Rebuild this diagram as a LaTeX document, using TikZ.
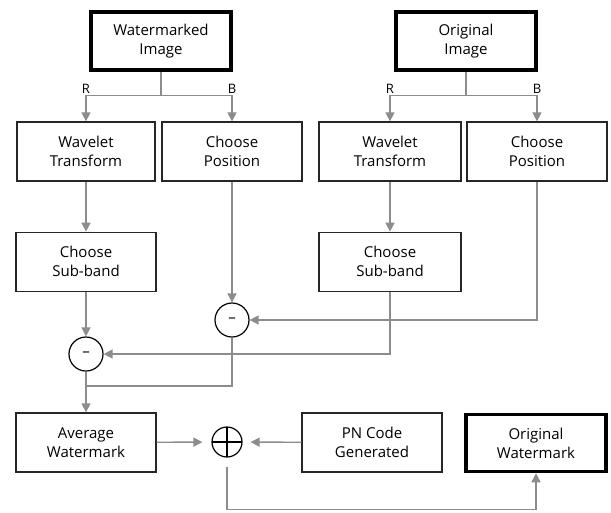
\documentclass[tikz,border=0pt]{standalone}
\usepackage{fontspec}
\setmainfont{Open Sans}
\usetikzlibrary{arrows.meta,positioning}

\begin{document}
\begin{tikzpicture}[
    x=1pt, y=-1pt,
    font=\fontsize{15}{19}\selectfont,
    block/.style={rectangle, draw=black!85, line width=1.3pt, align=center, minimum width=140pt, minimum height=59pt, inner sep=2pt},
    source/.style={block, draw=black, line width=3.5pt, minimum height=58pt},
    minus/.style={circle, draw=black, line width=1.2pt, minimum size=34pt, inner sep=0pt},
    adder/.style={circle, draw=black, line width=1.2pt, minimum size=30pt, inner sep=0pt,
        path picture={\draw[line width=1.1pt] (path picture bounding box.north) -- (path picture bounding box.south)
                      (path picture bounding box.west) -- (path picture bounding box.east);}},
    chan/.style={font=\fontsize{13}{15}\selectfont, above, inner sep=2pt},
    flow/.style={draw=black!45, line width=1.4pt},
    >={Triangle[length=9pt,width=9pt]}
]
\useasboundingbox (0,0) rectangle (611,512);

% inputs
\node[source] (wimg) at (161,41) {Watermarked\\Image};
\node[source] (oimg) at (466,41) {Original\\Image};

% first stage
\node[block, minimum width=138pt] (wt1) at (86,151.5) {Wavelet\\Transform};
\node[block] (cp1) at (232,151.5) {Choose\\Position};
\node[block, minimum width=142pt] (wt2) at (390,151.5) {Wavelet\\Transform};
\node[block] (cp2) at (537,151.5) {Choose\\Position};
\node[block, below=50pt of wt1] (sb1) {Choose\\Sub-band};
\node[block, minimum width=142pt, below=50pt of wt2] (sb2) {Choose\\Sub-band};

% differences
\node[minus] (sub2) at (232,320) {--};
\node[minus] (sub1) at (86,354) {--};
\coordinate (join) at (86,386);

% output stage
\node[block] (avg) at (86,442.5) {Average\\Watermark};
\node[adder] (add) at (227,442) {};
\node[block] (pn) at (372,442.5) {PN Code\\Generated};
\node[source, minimum height=57pt] (owm) at (536,443) {Original\\Watermark};

% channel split
\draw[flow] (wimg.south) -- ++(0,24) coordinate (wsplit);
\draw[flow,->] (wsplit) -| (wt1.north);
\draw[flow,->] (wsplit) -| (cp1.north);
\node[chan] (wr) at (wt1.north |- wsplit) {R};
\node[chan] (wb) at (cp1.north |- wsplit) {B};

\draw[flow] (oimg.south) -- ++(0,24) coordinate (osplit);
\draw[flow,->] (osplit) -| (wt2.north);
\draw[flow,->] (osplit) -| (cp2.north);
\node[chan] (or) at (wt2.north |- osplit) {R};
\node[chan] (ob) at (cp2.north |- osplit) {B};

% main flow
\draw[flow,->] (wt1) -- (sb1);
\draw[flow,->] (sb1) -- (sub1);
\draw[flow,->] (cp1) -- (sub2);
\draw[flow,->] (wt2) -- (sb2);
\draw[flow,->] (cp2.south) |- (sub2.east);
\draw[flow,->] (sb2.south) |- (sub1.east);
\draw[flow] (sub2.south) |- (join);
\draw[flow,->] (sub1) -- (avg);

\draw[flow,->,shorten >=9pt] (avg) -- (add);
\draw[flow,->,shorten >=8pt] (pn) -- (add);
\draw[flow,->,shorten <=9pt] (add.south) -- ++(0,52) -| (owm.south);

\end{tikzpicture}
\end{document}
